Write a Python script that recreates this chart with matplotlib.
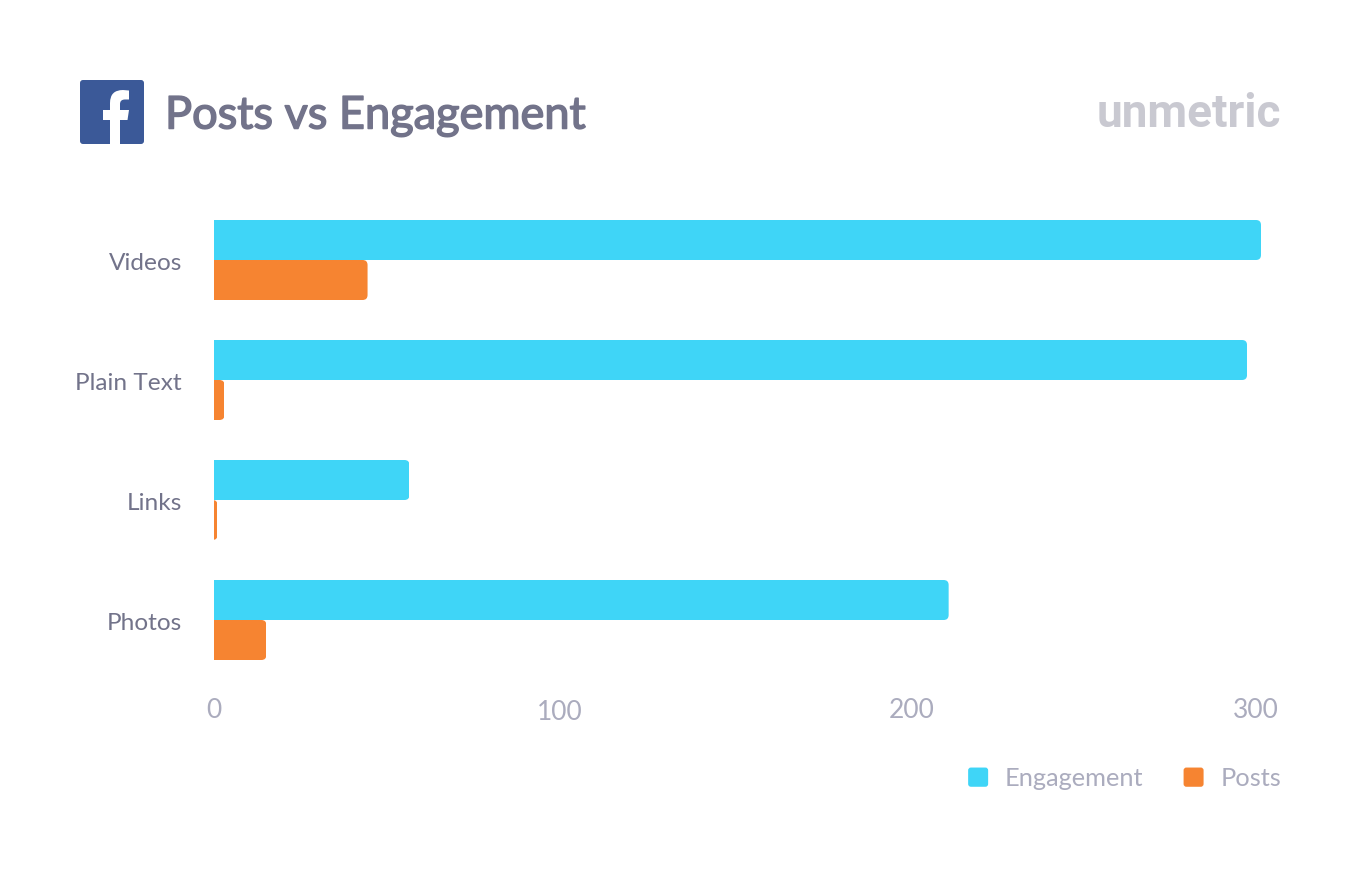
import matplotlib
matplotlib.use("Agg")
import matplotlib.pyplot as plt
import matplotlib.patheffects as pe
from matplotlib.patches import FancyBboxPatch, Patch, PathPatch
from matplotlib.path import Path
from matplotlib.legend_handler import HandlerPatch
from matplotlib.transforms import ScaledTranslation

categories = ["Videos", "Plain Text", "Links", "Photos"]
engagement = [300, 296, 56, 210.5]
posts = [44, 3, 1, 15]
xticks = [0, 100, 200, 300]

W, H = 1360, 872
CYAN, ORANGE = "#3FD5F7", "#F68431"
TITLE, LABEL, TICK = "#72738A", "#72738A", "#ABACBE"
FONT = "Lato"
plt.rcParams["font.family"] = [FONT, "DejaVu Sans"]

fig = plt.figure(figsize=(W / 100, H / 100), dpi=100, facecolor="white")
ax = fig.add_axes([214 / W, 1 - 680 / H, (1261 - 214) / W, 480 / H])
ax.set_xlim(0, 300)
ax.set_ylim(3.5, -0.5)
for s in ax.spines.values():
    s.set_visible(False)

pos = list(range(len(categories)))
h = 40 / 120
b1 = ax.barh([p - h / 2 for p in pos], engagement, height=h, color=CYAN, label="Engagement")
b2 = ax.barh([p + h / 2 for p in pos], posts, height=h, color=ORANGE, label="Posts")

# Round only the right-hand corners of each bar
px_x = 300 / (1261 - 214)
px_y = 4 / 480
for bar in list(b1) + list(b2):
    x0, y0, bw, bh = bar.get_x(), bar.get_y(), bar.get_width(), bar.get_height()
    clip = FancyBboxPatch((x0 - 10, y0), bw + 10, bh,
                          boxstyle=f"round,pad=0,rounding_size={5 * px_x}",
                          mutation_aspect=px_y / px_x, transform=ax.transData)
    bar.set_clip_path(clip)

ax.set_yticks(pos)
ax.set_yticklabels(categories, fontsize=17.6, color=LABEL)
ax.set_xticks(xticks)
ax.set_xticklabels([str(t) for t in xticks], fontsize=19, color=TICK)
ax.tick_params(axis="both", length=0)
ax.tick_params(axis="y", pad=23)
ax.tick_params(axis="x", pad=13)

for lab in ax.get_yticklabels():
    lab.set_transform(lab.get_transform() + ScaledTranslation(0, -1 / 100, fig.dpi_scale_trans))

offsets = {"100": (-3, -2), "300": (-5, 0)}
for lab in ax.get_xticklabels():
    if lab.get_text() in offsets:
        dx, dy = offsets[lab.get_text()]
        lab.set_transform(lab.get_transform() + ScaledTranslation(dx / 100, dy / 100, fig.dpi_scale_trans))


class RoundHandler(HandlerPatch):
    def create_artists(self, legend, orig, xd, yd, width, height, fontsize, trans):
        p = FancyBboxPatch((-xd, -yd), width, height,
                           boxstyle="round,pad=0,rounding_size=2",
                           facecolor=orig.get_facecolor(), edgecolor="none", transform=trans)
        return [p]


LEG_FS = 18.3
handles = [Patch(color=CYAN, label="Engagement"), Patch(color=ORANGE, label="Posts")]
leg = ax.legend(handles=handles, ncol=2, frameon=False, fontsize=LEG_FS, labelcolor=TICK,
                loc="center right", bbox_to_anchor=(1281 / W, 1 - 778.5 / H),
                bbox_transform=fig.transFigure, borderaxespad=0, borderpad=0,
                handlelength=14.4 / LEG_FS, handleheight=14.4 / LEG_FS,
                handletextpad=12 / LEG_FS, columnspacing=29 / LEG_FS,
                handler_map={Patch: RoundHandler()})

# Title
fig.text(165 / W, 1 - 116 / H, "Posts vs Engagement", fontsize=32.5, color=TITLE,
         va="center", ha="left", family=[FONT, "DejaVu Sans"],
         path_effects=[pe.withStroke(linewidth=1.1, foreground=TITLE)])

# Facebook badge, in pixel coordinates
bg = fig.add_axes([0, 0, 1, 1], zorder=-1)
bg.set_xlim(0, W)
bg.set_ylim(H, 0)
bg.axis("off")
bg.add_patch(FancyBboxPatch((80, 80), 64, 64, boxstyle="round,pad=0,rounding_size=3",
                            facecolor="#3B5998", edgecolor="none"))
M, L, Q = Path.MOVETO, Path.LINETO, Path.CURVE3
f_path = [
    (M, (120, 144)), (L, (120, 120)), (L, (127.5, 120)), (L, (129, 110)), (L, (120, 110)),
    (L, (120, 104)), (Q, (120, 99.5)), (Q, (125, 99.5)), (L, (129, 99.5)), (L, (129, 90.5)),
    (L, (123, 90)), (Q, (110, 90)), (Q, (110, 103)), (L, (110, 110)), (L, (103, 110)),
    (L, (103, 120)), (L, (110, 120)), (L, (110, 144)), (Path.CLOSEPOLY, (120, 144)),
]
bg.add_patch(PathPatch(Path([v for _, v in f_path], [c for c, _ in f_path]),
                       facecolor="white", edgecolor="none"))

# Brand wordmark
fig.text(1281 / W, 1 - 114 / H, "unmetric", fontsize=33, color="#C9C9D1", va="center",
         ha="right", family=["Roboto", "DejaVu Sans"], fontweight="bold")

fig.savefig("out.png", dpi=100, facecolor="white")
